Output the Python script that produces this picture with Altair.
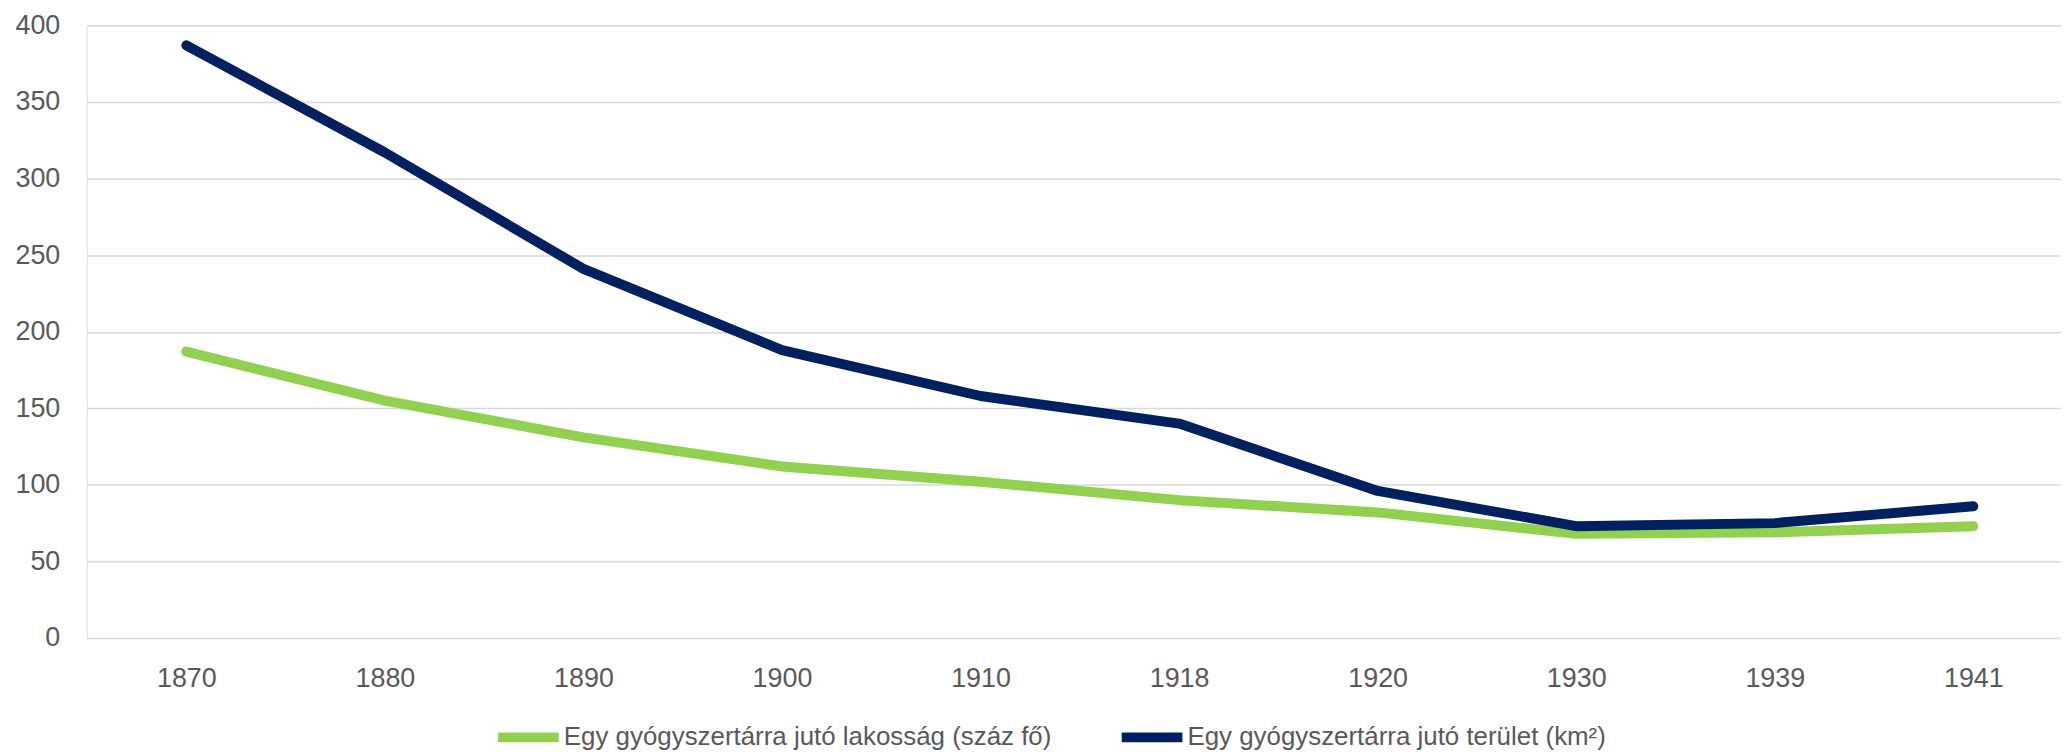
import altair as alt
import pandas as pd

years = ["1870", "1880", "1890", "1900", "1910", "1918", "1920", "1930", "1939", "1941"]
series_names = [
    "Egy gyógyszertárra jutó lakosság (száz fő)",
    "Egy gyógyszertárra jutó terület (km²)",
]
lakossag = [187, 155, 131, 112, 102, 90, 82, 68, 69, 73]
terulet = [387, 317, 241, 188, 158, 140, 96, 73, 75, 86]
colors = ["#92D050", "#002060"]

rows = []
for name, vals in zip(series_names, [lakossag, terulet]):
    for y, v in zip(years, vals):
        rows.append({"year": y, "value": v, "series": name})
df = pd.DataFrame(rows)

FONT = "Liberation Sans"
GREY = "#595959"

chart = (
    alt.Chart(df)
    .mark_line(strokeWidth=10, strokeCap="round", strokeJoin="round")
    .encode(
        x=alt.X(
            "year:O",
            sort=years,
            title=None,
            scale=alt.Scale(type="point", padding=0.4716, align=0.532),
            axis=alt.Axis(
                labelAngle=0,
                ticks=False,
                domain=False,
                grid=False,
                labelPadding=28,
                labelFontSize=27,
                labelFont=FONT,
                labelColor=GREY,
            ),
        ),
        y=alt.Y(
            "value:Q",
            title=None,
            scale=alt.Scale(domain=[0, 400], nice=False),
            axis=alt.Axis(
                values=[0, 50, 100, 150, 200, 250, 300, 350, 400],
                ticks=False,
                domain=False,
                grid=True,
                gridColor="#d9d9d9",
                gridWidth=1.5,
                labelPadding=27,
                labelFontSize=27,
                labelFont=FONT,
                labelColor=GREY,
            ),
        ),
        color=alt.Color(
            "series:N",
            scale=alt.Scale(domain=series_names, range=colors),
            legend=alt.Legend(
                title=None,
                orient="none",
                direction="horizontal",
                legendX=408,
                legendY=679,
                symbolType="stroke",
                symbolStrokeWidth=10,
                symbolSize=3721,
                labelOffset=0,
                columnPadding=50,
                labelFontSize=26,
                labelFont=FONT,
                labelColor=GREY,
                padding=0,
                labelLimit=800,
            ),
        ),
    )
    .properties(
        width=1982,
        height=615,
        autosize=alt.AutoSizeParams(type="none"),
        padding={"left": 79, "top": 16, "right": 0, "bottom": 113},
    )
    .configure_view(stroke=None)
    .configure(background="white")
)

chart.save("out.html", embed_options={"renderer": "svg", "actions": False})
